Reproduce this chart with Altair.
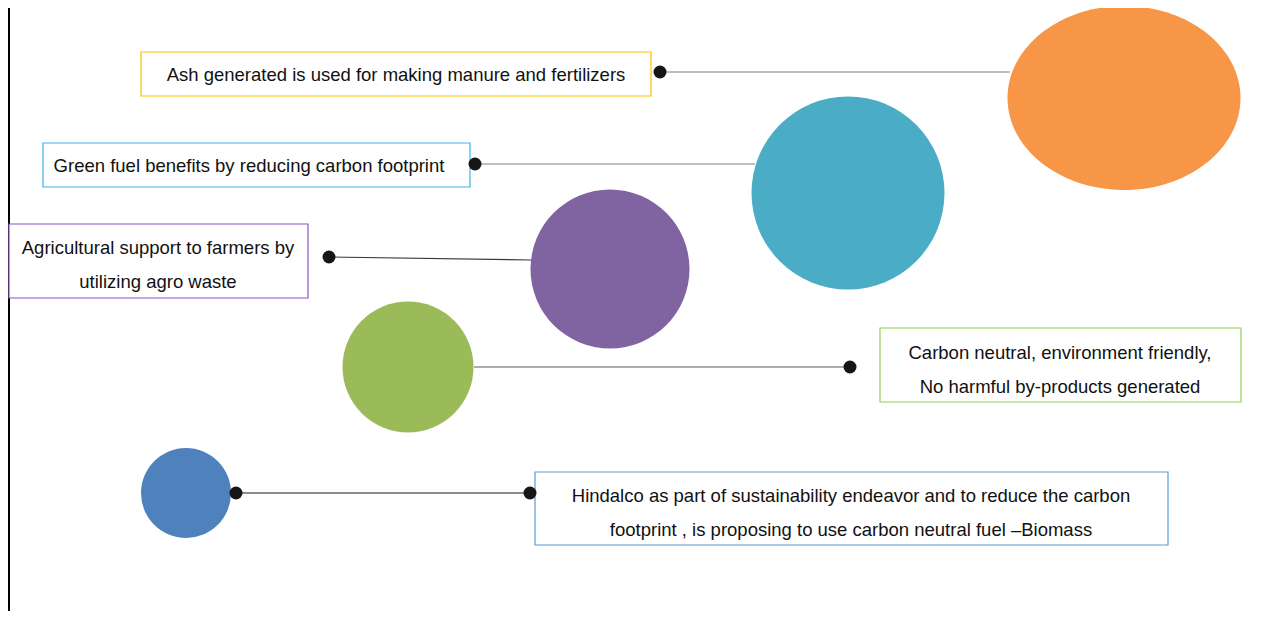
import altair as alt
import pandas as pd

# ---- data (layout units = pixels of the original slide) ----
W, H = 1255, 603
X0, Y0 = 8, 8

bubble_names = ["Ash", "Green fuel", "Agro", "Carbon neutral", "Hindalco"]
bubble_x = [1124, 848, 610, 408, 186]
bubble_y = [98, 193, 269, 367, 493]
bubble_d = [233, 193, 159, 131, 90]
bubble_colors = ["#F79646", "#4BACC6", "#8064A2", "#9BBB59", "#4F81BD"]

box_texts = [
    "Ash generated is used for making manure and fertilizers",
    "Green fuel benefits by reducing carbon footprint",
    "Agricultural support to farmers by\nutilizing agro waste",
    "Carbon neutral, environment friendly,\nNo harmful by-products generated",
    "Hindalco as part of sustainability endeavor and to reduce the carbon\nfootprint , is proposing to use carbon neutral fuel \u2013Biomass",
]
box_x1 = [141, 43, 9, 880, 535]
box_x2 = [651, 470, 308, 1241, 1168]
box_y1 = [52, 143, 224, 328, 472]
box_y2 = [96, 187, 298, 402, 545]
text_x = [396, 249, 158, 1060, 851]
text_y = [75, 166, 248, 353, 496]
box_colors = ["#FFC000", "#3DB4E6", "#8A55C0", "#92D050", "#5B9BD5"]

line_x1 = [660, 475, 329, 474, 236]
line_y1 = [72, 164, 257, 367, 493]
line_x2 = [1010, 755, 531, 850, 530]
line_y2 = [72, 164, 260, 367, 493]
line_colors = ["#808080", "#808080", "#3A3A3A", "#5F5F5F", "#1A1A1A"]

dot_x = [660, 475, 329, 850, 236, 530]
dot_y = [72, 164, 257, 367, 493, 493]

# ---- frames ----
bubbles = pd.DataFrame({"name": bubble_names, "x": bubble_x, "y": bubble_y, "d": bubble_d})
boxes = pd.DataFrame({"name": bubble_names, "x1": box_x1, "x2": box_x2, "y1": box_y1,
                      "y2": box_y2, "tx": text_x, "ty": text_y, "text": box_texts})
lines = pd.DataFrame({"lname": bubble_names, "x1": line_x1, "y1": line_y1, "x2": line_x2, "y2": line_y2})
dots = pd.DataFrame({"x": dot_x, "y": dot_y})

xs = alt.Scale(domain=[X0, X0 + W])
ys = alt.Scale(domain=[Y0, Y0 + H], reverse=True)


def X(f):
    return alt.X(f, type="quantitative", scale=xs, axis=None)


def Y(f):
    return alt.Y(f, type="quantitative", scale=ys, axis=None)


ellipse = "M-1,0A1,0.79,0,1,1,1,0A1,0.79,0,1,1,-1,0Z"

border = alt.Chart(pd.DataFrame({"a": [0]})).mark_rule(color="#000000", strokeWidth=2).encode(
    x=alt.value(1), y=alt.value(0), y2=alt.value(H)
)

line_layer = alt.Chart(lines).mark_rule(strokeWidth=1.2).encode(
    x=X("x1"), y=Y("y1"), x2=alt.X2("x2"), y2=alt.Y2("y2"),
    color=alt.Color("lname:N", scale=alt.Scale(domain=bubble_names, range=line_colors), legend=None),
)

bubble_layer = alt.Chart(bubbles).transform_calculate(s="datum.d * datum.d").mark_point(
    filled=True, opacity=1, strokeWidth=0
).encode(
    x=X("x"), y=Y("y"),
    size=alt.Size("s:Q", scale=None),
    shape=alt.Shape("name:N", scale=alt.Scale(domain=bubble_names,
                                              range=[ellipse, "circle", "circle", "circle", "circle"]), legend=None),
    color=alt.Color("name:N", scale=alt.Scale(domain=bubble_names, range=bubble_colors), legend=None),
)

box_layer = alt.Chart(boxes).mark_rect(fill="white", strokeWidth=1.2).encode(
    x=X("x1"), x2=alt.X2("x2"), y=Y("y1"), y2=alt.Y2("y2"),
    stroke=alt.Stroke("name:N", scale=alt.Scale(domain=bubble_names, range=box_colors), legend=None),
)

text_layer = alt.Chart(boxes).mark_text(
    font="Liberation Sans", fontSize=18.5, lineHeight=34, baseline="middle", align="center",
    color="#111111", lineBreak="\n"
).encode(x=X("tx"), y=Y("ty"), text="text:N")

dot_layer = alt.Chart(dots).mark_point(filled=True, opacity=1, color="#161616", size=169, strokeWidth=0).encode(
    x=X("x"), y=Y("y")
)

chart = alt.layer(border, line_layer, bubble_layer, box_layer, text_layer, dot_layer).resolve_scale(
    color="independent", stroke="independent", shape="independent", size="independent"
).properties(
    width=W, height=H, padding=0, autosize=alt.AutoSizeParams(type="none")
).configure_view(strokeWidth=0)

chart.save("out.html", embed_options={"renderer": "svg", "actions": False})
